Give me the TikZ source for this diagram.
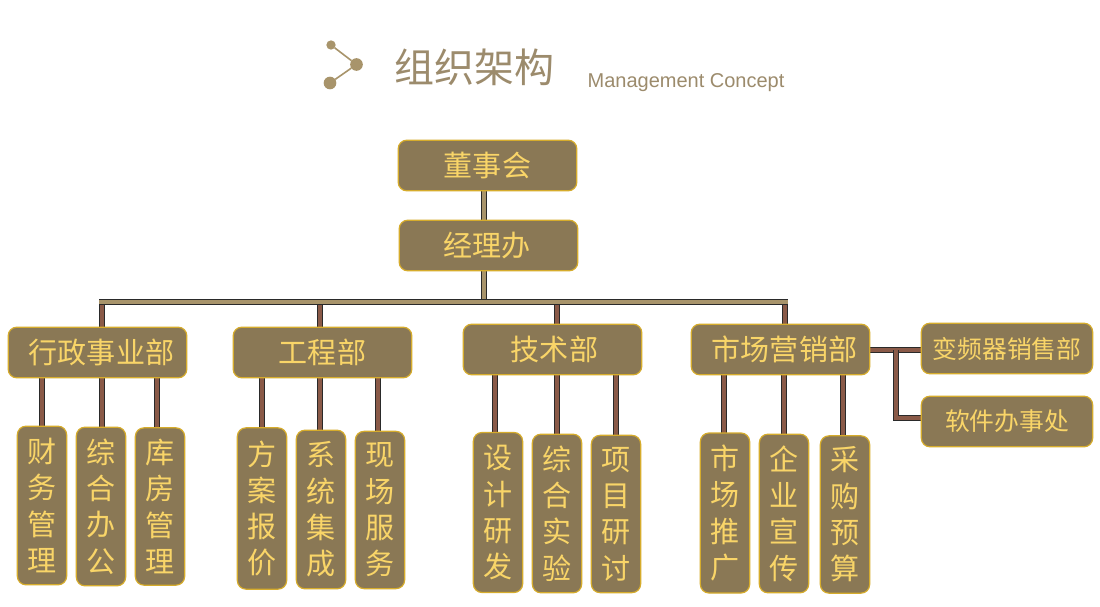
\documentclass[tikz,border=0pt]{standalone}
\usepackage{fontspec}
\setmainfont{Noto Sans CJK SC}
\newfontfamily\latinf{Liberation Sans}
\usetikzlibrary{backgrounds}
\definecolor{boxfill}{HTML}{8A7855}
\definecolor{boxedge}{HTML}{D6AC2C}
\definecolor{boxtext}{HTML}{F9D568}
\definecolor{titlec}{HTML}{9C8B6C}
\definecolor{iconc}{HTML}{A8946B}
\definecolor{busc}{HTML}{A8946B}
\definecolor{brownc}{HTML}{8A5A48}
\definecolor{linedark}{HTML}{2A2A2A}
\tikzset{
  x=0.75pt,y=-0.75pt,
  box/.style={draw=boxedge,fill=boxfill,text=boxtext,line width=0.9pt,rounded corners=6.5pt,inner sep=0pt,outer sep=0pt,align=center},
  dept/.style={box,minimum width=134pt,minimum height=38pt,font=\fontsize{21.8pt}{26pt}\selectfont},
  side/.style={box,minimum width=128.5pt,minimum height=38pt,font=\fontsize{18.6pt}{22pt}\selectfont},
  leaf/.style={box,minimum width=37pt,font=\fontsize{21.8pt}{27.2pt}\selectfont},
  busline/.style={draw=linedark,double=busc,double distance=2.8pt,line width=0.8pt},
  brline/.style={draw=linedark,double=brownc,double distance=2.6pt,line width=0.8pt},
  dot/.style={circle,fill=iconc,inner sep=0pt,outer sep=0pt},
}
\begin{document}
\begin{tikzpicture}
\useasboundingbox (0,0) rectangle (1100,607);
\begin{scope}[on background layer]
\fill[white] (0,0) rectangle (1100,607);
\end{scope}
% title
\node[dot,minimum size=7pt] (ia) at (331,45) {};
\node[dot,minimum size=9.5pt] (ib) at (356.5,64.5) {};
\node[dot,minimum size=9.5pt] (ic) at (330,83) {};
\draw[iconc,line width=1.2pt] (ia) -- (ib) -- (ic);
\node[text=titlec,font=\fontsize{30pt}{34pt}\selectfont,inner sep=0pt] (tcn) at (474,67) {组织架构};
\node[text=titlec,font=\latinf\fontsize{15pt}{17pt}\selectfont,inner sep=0pt] (ten) at (686,83) {Management Concept};
% top
\node[dept] (dsh) at (487.5,165.5) {董事会};
\node[dept] (jlb) at (488.5,245.5) {\hspace{-2pt}经理办};
% departments
\node[dept] (xz) at (97.5,352.5) {\hspace{6pt}行政事业部};
\node[dept] (gc) at (322.5,352.5) {工程部};
\node[dept] (js) at (552.5,349.5) {\hspace{3pt}技术部};
\node[dept] (sc) at (780.5,349.5) {\hspace{6pt}市场营销部};
\node[side] (bp) at (1007,348.5) {变频器销售部};
\node[side] (rj) at (1007,421.5) {软件办事处};
% leaves
\node[leaf,minimum height=119pt] (a1) at (42,505.5) {财\\务\\管\\理};
\node[leaf,minimum height=119pt] (a2) at (101,506.5) {综\\合\\办\\公};
\node[leaf,minimum height=118pt] (a3) at (160,506.5) {库\\房\\管\\理};
\node[leaf,minimum height=121pt] (b1) at (262,508.5) {方\\案\\报\\价};
\node[leaf,minimum height=119pt] (b2) at (321,509.5) {系\\统\\集\\成};
\node[leaf,minimum height=118pt] (b3) at (380,510) {现\\场\\服\\务};
\node[leaf,minimum height=120pt] (c1) at (498,512.5) {设\\计\\研\\发};
\node[leaf,minimum height=119pt] (c2) at (557,513.5) {综\\合\\实\\验};
\node[leaf,minimum height=118pt] (c3) at (616,514) {项\\目\\研\\讨};
\node[leaf,minimum height=120pt] (d1) at (725,513) {市\\场\\推\\广};
\node[leaf,minimum height=119pt] (d2) at (784,513.5) {企\\业\\宣\\传};
\node[leaf,minimum height=118pt] (d3) at (845,514.5) {采\\购\\预\\算};
% connector helpers
\coordinate (busL) at (102,302);
\coordinate (busM) at (484,302);
\coordinate (busR) at (785,302);
\coordinate (xdsh) at (484,0);
\coordinate (xgc) at (320,0);
\coordinate (xjs) at (557,0);
\coordinate (xa1) at (42,0);
\coordinate (xa3) at (157,0);
\coordinate (xb1) at (262,0);
\coordinate (xb2) at (320,0);
\coordinate (xb3) at (378,0);
\coordinate (xc1) at (495,0);
\coordinate (xc2) at (557,0);
\coordinate (xc3) at (616,0);
\coordinate (xd1) at (724,0);
\coordinate (xd2) at (784,0);
\coordinate (xd3) at (843,0);
\coordinate (ysc) at (0,350);
\coordinate (yrj) at (0,418);
\coordinate (branch) at (896,350);
\coordinate (branchEnd) at (896,418);
\begin{scope}[on background layer]
\draw[busline] (dsh.south -| xdsh) -- (jlb.north -| xdsh);
\draw[busline] (jlb.south -| xdsh) -- (busM);
\draw[brline] (busL) -- (xz.north -| busL);
\draw[brline] (busL -| xgc) -- (gc.north -| xgc);
\draw[brline] (busL -| xjs) -- (js.north -| xjs);
\draw[brline] (busR) -- (sc.north -| busR);
\draw[busline,shorten <=-2.2pt,shorten >=-2.2pt] (busL) -- (busR);
\draw[brline] (xz.south -| xa1) -- (a1.north -| xa1);
\draw[brline] (xz.south -| busL) -- (a2.north -| busL);
\draw[brline] (xz.south -| xa3) -- (a3.north -| xa3);
\draw[brline] (gc.south -| xb1) -- (b1.north -| xb1);
\draw[brline] (gc.south -| xb2) -- (b2.north -| xb2);
\draw[brline] (gc.south -| xb3) -- (b3.north -| xb3);
\draw[brline] (js.south -| xc1) -- (c1.north -| xc1);
\draw[brline] (js.south -| xc2) -- (c2.north -| xc2);
\draw[brline] (js.south -| xc3) -- (c3.north -| xc3);
\draw[brline] (sc.south -| xd1) -- (d1.north -| xd1);
\draw[brline] (sc.south -| xd2) -- (d2.north -| xd2);
\draw[brline] (sc.south -| xd3) -- (d3.north -| xd3);
\draw[brline] (sc.east |- ysc) -- (bp.west |- ysc);
\draw[brline] (branch) -- (branchEnd) -- (rj.west |- yrj);
\end{scope}
\end{tikzpicture}
\end{document}
